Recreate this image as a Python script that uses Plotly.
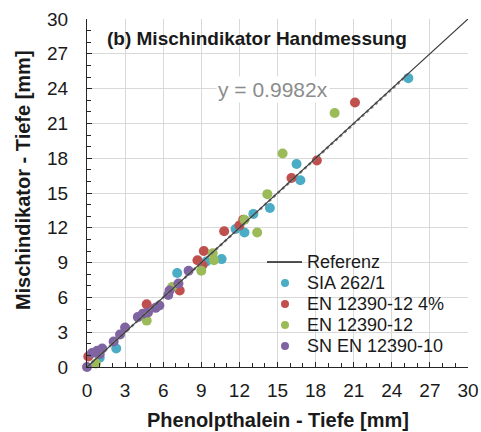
import plotly.graph_objects as go

# ---- data ----
sia_x = [1.0, 2.3, 7.1, 9.4, 10.6, 11.7, 12.4, 13.1, 14.4, 16.5, 16.8, 25.3]
sia_y = [0.8, 1.6, 8.1, 9.1, 9.3, 11.9, 11.6, 13.2, 13.7, 17.5, 16.1, 24.9]

en4_x = [0.1, 4.7, 7.3, 8.7, 9.2, 9.1, 10.8, 12.0, 12.3, 16.1, 18.1, 21.1]
en4_y = [0.9, 5.4, 6.6, 9.2, 10.0, 8.8, 11.7, 12.2, 12.7, 16.3, 17.8, 22.8]

en_x = [0.7, 4.7, 6.7, 9.0, 9.9, 10.0, 12.4, 13.4, 14.2, 15.4, 19.5]
en_y = [0.3, 4.0, 6.9, 8.3, 9.8, 9.2, 12.7, 11.6, 14.9, 18.4, 21.9]

sn_x = [0.0, 0.4, 0.8, 1.0, 1.2, 2.1, 2.6, 3.0, 4.0, 4.4, 4.8, 5.4, 5.7, 6.4, 6.5, 7.2, 8.0]
sn_y = [0.0, 1.2, 1.4, 1.1, 1.6, 2.2, 2.8, 3.4, 4.3, 4.6, 4.7, 5.1, 5.3, 6.2, 6.6, 7.2, 8.3]

ref_x = [0, 30]
ref_y = [0, 30]

slope = 0.9982
trend_x = [0, 25.3]
trend_y = [slope * v for v in trend_x]

names = ["SIA 262/1", "EN 12390-12 4%", "EN 12390-12", "SN EN 12390-10"]
colors = ["#4bacc6", "#c0504d", "#9bbb59", "#8064a2"]
ref_name = "Referenz"

tick_vals = [0, 3, 6, 9, 12, 15, 18, 21, 24, 27, 30]
tick_text = [str(v) for v in tick_vals]

FONT = "Liberation Sans, Arial, sans-serif"
TXT = "#1a1a1a"

fig = go.Figure()

series = [(sia_x, sia_y), (en4_x, en4_y), (en_x, en_y), (sn_x, sn_y)]
for (xs, ys), nm, col in zip(series, names, colors):
    fig.add_trace(go.Scatter(
        x=xs, y=ys, mode="markers", name=nm, showlegend=False,
        marker=dict(color=col, size=10, line=dict(width=0)),
        cliponaxis=False,
    ))

fig.add_trace(go.Scatter(
    x=trend_x, y=trend_y, mode="lines", showlegend=False,
    line=dict(color="#8a8a8a", width=2.5, dash="dot"), hoverinfo="skip",
))
fig.add_trace(go.Scatter(
    x=ref_x, y=ref_y, mode="lines", name=ref_name, showlegend=False,
    line=dict(color="#3a3a3a", width=1.2),
))

axis_common = dict(
    range=[0, 30], tickmode="array", tickvals=tick_vals, ticktext=tick_text,
    showgrid=True, gridcolor="#d9d9d9", gridwidth=1,
    showline=True, linecolor="#262626", linewidth=1,
    ticks="inside", ticklen=5, tickcolor="#262626",
    minor=dict(dtick=1, ticks="inside", ticklen=4, tickcolor="#262626", showgrid=False),
    zeroline=False, tickfont=dict(family=FONT, size=19, color=TXT),
    fixedrange=True, automargin=False,
)

fig.update_xaxes(**axis_common, ticklabelstandoff=6)
fig.update_yaxes(**axis_common, ticklabelstandoff=14)

# ---- hand-built legend (to match the tight row spacing of the reference) ----
leg_rows = [0.3017, 0.2414, 0.1810, 0.1207, 0.0603]
leg_sym_x = 0.5197
leg_txt_x = 0.572
shapes = [
    dict(type="rect", xref="paper", yref="paper", x0=0.459, x1=0.953, y0=0.029, y1=0.336,
         fillcolor="white", line=dict(width=0), layer="between"),
    dict(type="line", xref="paper", yref="paper", x0=0.4724, x1=0.5643,
         y0=leg_rows[0], y1=leg_rows[0], line=dict(color="#1a1a1a", width=1.5)),
]
for r, col in zip(leg_rows[1:], colors):
    shapes.append(dict(
        type="circle", xref="paper", yref="paper", xsizemode="pixel", ysizemode="pixel",
        xanchor=leg_sym_x, yanchor=r, x0=-4, x1=4, y0=-4, y1=4,
        fillcolor=col, line=dict(width=0),
    ))

annotations = [
    dict(text="<b>(b) Mischindikator Handmessung</b>", xref="paper", yref="paper",
         x=0.047, y=0.945, xanchor="left", yanchor="middle", showarrow=False,
         font=dict(family=FONT, size=19, color=TXT)),
    dict(text="y = 0.9982x", xref="paper", yref="paper",
         x=0.487, y=0.796, xanchor="center", yanchor="middle", showarrow=False,
         bgcolor="white", font=dict(family=FONT, size=21, color="#8c8c8c")),
    dict(text="<b>Phenolpthalein - Tiefe [mm]</b>", xref="paper", yref="paper",
         x=0.5, y=-0.152, xanchor="center", yanchor="middle", showarrow=False,
         font=dict(family=FONT, size=20, color=TXT)),
    dict(text="<b>Mischindikator - Tiefe [mm]</b>", xref="paper", yref="paper",
         x=-0.168, y=0.537, xanchor="center", yanchor="middle", showarrow=False,
         textangle=-90, font=dict(family=FONT, size=20, color=TXT)),
]
for r, txt in zip(leg_rows, [ref_name] + names):
    annotations.append(dict(
        text=txt, xref="paper", yref="paper", x=leg_txt_x, y=r,
        xanchor="left", yanchor="middle", showarrow=False,
        font=dict(family=FONT, size=18, color=TXT),
    ))

fig.update_layout(
    width=481, height=432,
    margin=dict(l=87, r=13, t=19, b=65, autoexpand=False),
    paper_bgcolor="white", plot_bgcolor="white",
    showlegend=False,
    hovermode=False,
    shapes=shapes,
    annotations=annotations,
)

# remove the browser's default 8px page margin so the figure fills the window exactly
fig.write_html(
    "out.html",
    config={"displayModeBar": False, "staticPlot": True},
    post_script="document.body.style.margin='0px';",
)
